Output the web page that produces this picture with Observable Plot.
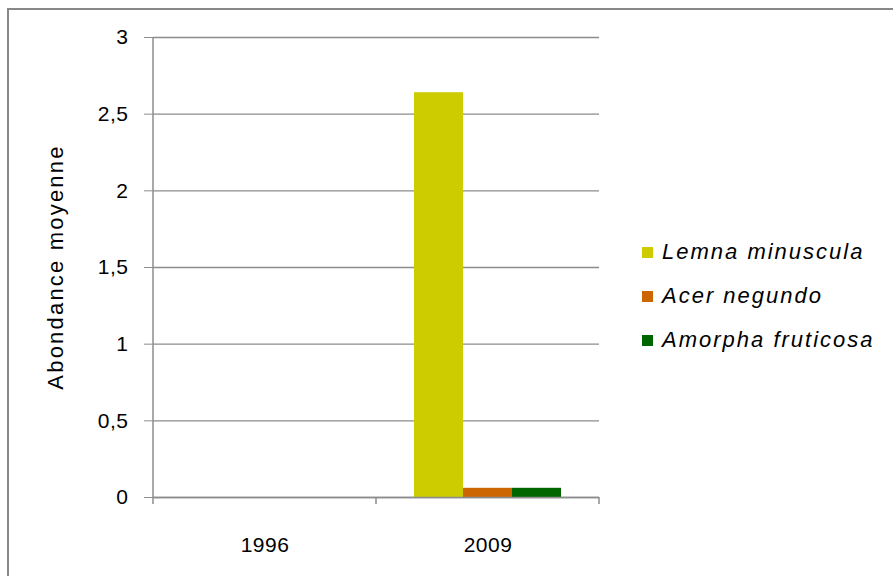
<!DOCTYPE html>
<html>
<head>
<meta charset="utf-8">
<script src="https://cdn.jsdelivr.net/npm/d3@7"></script>
<script src="https://cdn.jsdelivr.net/npm/@observablehq/plot@0.6"></script>
<style>
  body { margin: 0; background: #fff; font-family: "Liberation Sans", Arial, sans-serif; }
  #wrap { position: relative; width: 893px; height: 576px; overflow: hidden; }
  #border { position: absolute; left: 7px; top: 8px; width: 940px; height: 640px; border: 2px solid #888; box-sizing: border-box; }
  #chart { position: absolute; left: 0; top: 0; }
  #ylabel { position: absolute; left: 56px; top: 267px; transform: translate(-50%, -50%) rotate(-90deg); font-size: 22px; letter-spacing: 2.2px; white-space: nowrap; color: #000; }
  #legend { position: absolute; left: 642px; top: 0; }
  .item { position: absolute; left: 0; white-space: nowrap; font-style: italic; font-size: 22px; letter-spacing: 2px; display: flex; align-items: center; transform: translateY(-50%); color: #000; }
  .sw { width: 11px; height: 11px; margin-right: 9px; display: inline-block; }
</style>
</head>
<body>
<div id="wrap">
  <div id="border"></div>
  <div id="chart"></div>
  <div id="ylabel">Abondance moyenne</div>
  <div id="legend"></div>
</div>
<script>
const years = ["1996", "2009"];
const species = ["Lemna minuscula", "Acer negundo", "Amorpha fruticosa"];
const values1996 = [0, 0, 0];
const values2009 = [2.64, 0.06, 0.06];
const colors = ["#cccc00", "#cc6600", "#006600"];
const yTicks = [0, 0.5, 1, 1.5, 2, 2.5, 3];
const yLabel = "Abondance moyenne";

const data = [];
species.forEach((s, i) => data.push({year: years[0], species: s, value: values1996[i]}));
species.forEach((s, i) => data.push({year: years[1], species: s, value: values2009[i]}));

const gridColor = "#8c8c8c";

const plot = Plot.plot({
  width: 893,
  height: 576,
  marginLeft: 152,
  marginRight: 294,
  marginTop: 37,
  marginBottom: 79,
  style: {fontFamily: "'Liberation Sans', Arial, sans-serif", fontSize: "21px", letterSpacing: "0.5px", color: "#000", background: "transparent"},
  fx: {domain: years, padding: 0, label: null},
  x: {domain: species, paddingInner: 0, paddingOuter: 0.735, axis: null},
  y: {domain: [0, 3], ticks: yTicks, label: null},
  color: {domain: species, range: colors},
  marks: [
    Plot.ruleY(yTicks, {stroke: gridColor, strokeWidth: 1.3}),
    Plot.barY(data, {fx: "year", x: "species", y: "value", fill: "species", inset: 0}),
    Plot.ruleY([0], {stroke: gridColor, strokeWidth: 1.5}),
    Plot.axisY({ticks: yTicks, tickSize: 9, tickPadding: 16, stroke: gridColor, tickFormat: d => String(d).replace(".", ","), label: null, fill: "#000"}),
    Plot.axisFx({anchor: "bottom", tickSize: 0, tickPadding: 40, label: null, fill: "#000"})
  ]
});

document.getElementById("chart").appendChild(plot);

// axis line and category boundary ticks, positioned through the plot's scales
const fx = plot.scale("fx");
const y = plot.scale("y");
const svg = d3.select(plot);
const y0 = y.apply(0), y3 = y.apply(3);
const left = fx.apply(years[0]);
const g = svg.append("g").attr("stroke", gridColor).attr("stroke-width", 1.5);
g.append("line").attr("x1", left).attr("x2", left).attr("y1", y3).attr("y2", y0 + 7);
const bounds = years.map(yv => fx.apply(yv) + fx.bandwidth);
bounds.forEach(b => g.append("line").attr("x1", b).attr("x2", b).attr("y1", y0).attr("y2", y0 + 7));

// legend
const legend = document.getElementById("legend");
const rowsY = [252, 296, 340];
species.forEach((s, i) => {
  const d = document.createElement("div");
  d.className = "item";
  d.style.top = rowsY[i] + "px";
  d.innerHTML = `<span class="sw" style="background:${colors[i]}"></span><span>${s}</span>`;
  legend.appendChild(d);
});
</script>
</body>
</html>
